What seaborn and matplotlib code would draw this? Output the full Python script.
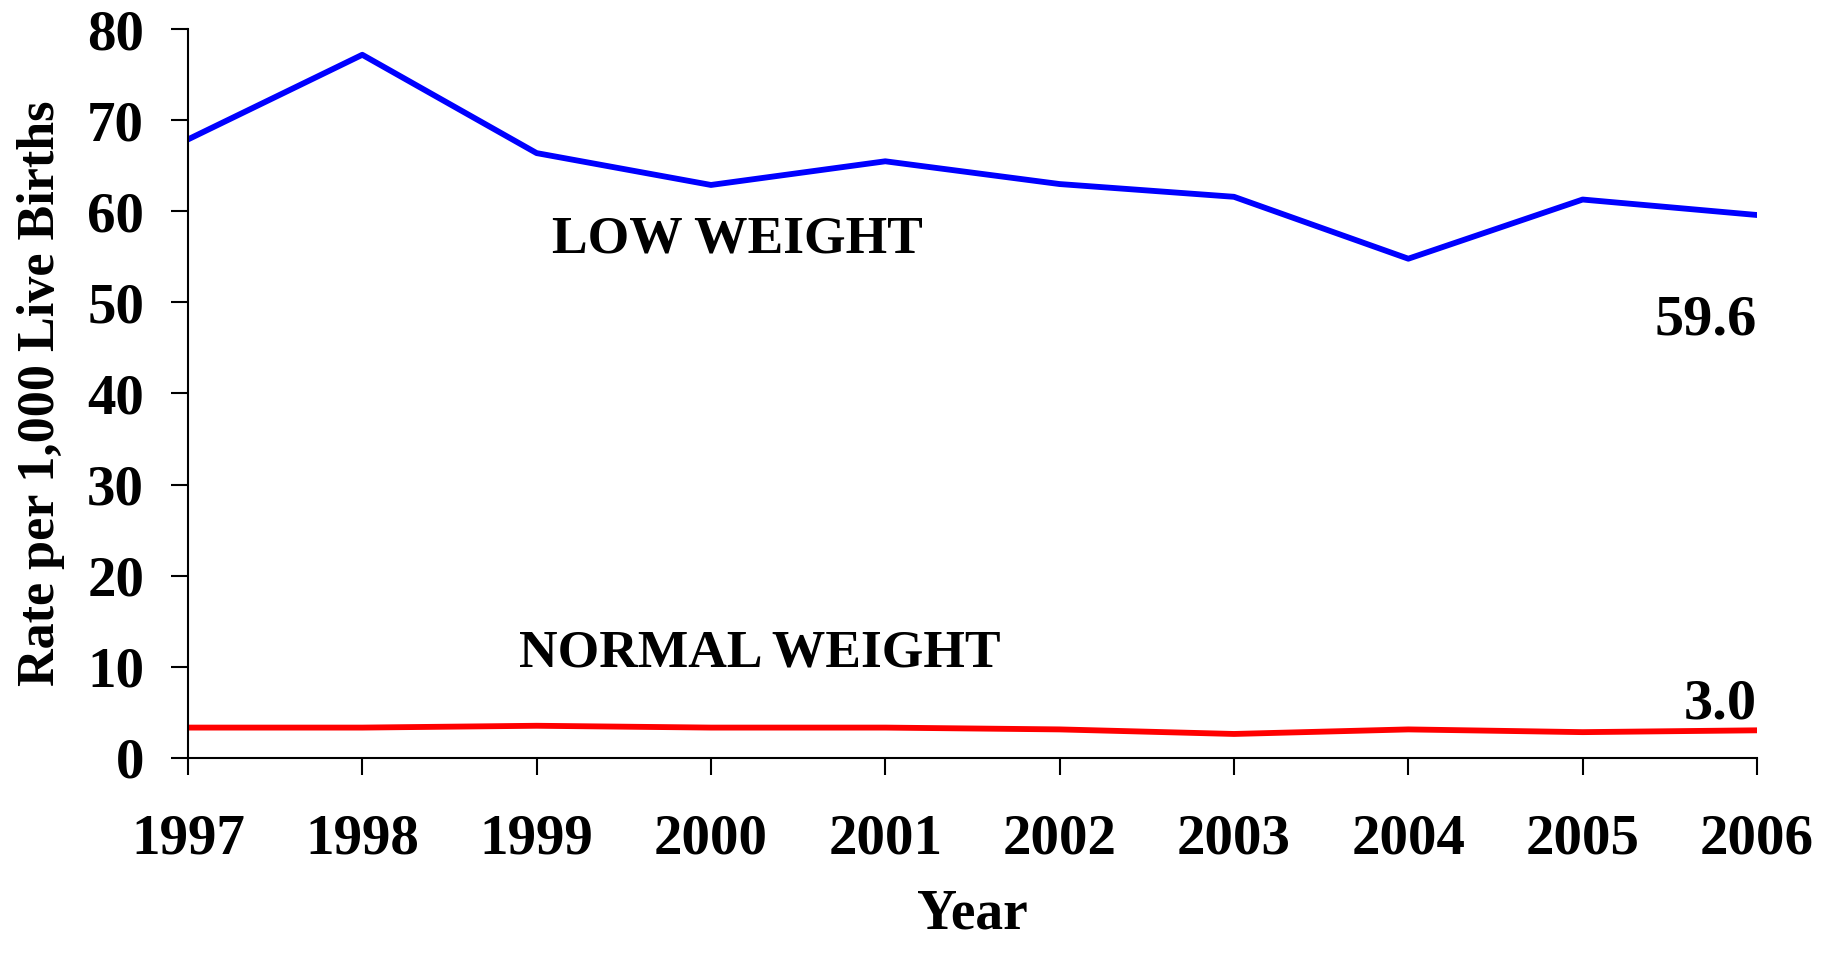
import numpy as np
import pandas as pd
import matplotlib
matplotlib.use("Agg")
import matplotlib.pyplot as plt
import seaborn as sns

# data
years = [1997, 1998, 1999, 2000, 2001, 2002, 2003, 2004, 2005, 2006]
low_weight = [67.9, 77.2, 66.4, 62.9, 65.5, 63.0, 61.6, 54.8, 61.3, 59.6]
normal_weight = [3.3, 3.3, 3.5, 3.3, 3.3, 3.1, 2.6, 3.1, 2.8, 3.0]
y_ticks = [0, 10, 20, 30, 40, 50, 60, 70, 80]

df = pd.DataFrame({
    "Year": years * 2,
    "Rate": low_weight + normal_weight,
    "Group": ["LOW WEIGHT"] * len(years) + ["NORMAL WEIGHT"] * len(years),
})

sns.set_style("ticks")
plt.rcParams["font.family"] = ["Liberation Serif", "DejaVu Serif"]
plt.rcParams["font.weight"] = "bold"
plt.rcParams["text.color"] = "black"
plt.rcParams["axes.labelcolor"] = "black"
plt.rcParams["xtick.color"] = "black"
plt.rcParams["ytick.color"] = "black"
plt.rcParams["axes.edgecolor"] = "black"

fig, ax = plt.subplots(figsize=(18.39, 9.6), dpi=100)
fig.subplots_adjust(left=0.1022, right=0.9554, top=0.9695, bottom=0.2108)

sns.lineplot(data=df, x="Year", y="Rate", hue="Group",
             palette={"LOW WEIGHT": "#0000ff", "NORMAL WEIGHT": "#ff0000"},
             linewidth=4.2, legend=False, ax=ax)

ax.set_xlim(1997, 2006)
ax.set_ylim(0, 80)
ax.set_xticks(years)
ax.set_xticklabels([str(y) for y in years])
ax.set_yticks(y_ticks)

ax.tick_params(axis="x", length=12.5, width=1.5, pad=28, labelsize=41)
ax.tick_params(axis="y", length=12.5, width=1.5, pad=19, labelsize=41)
for lab in ax.get_xticklabels() + ax.get_yticklabels():
    lab.set_fontweight("bold")

sns.despine(ax=ax)
ax.spines["left"].set_linewidth(1.5)
ax.spines["bottom"].set_linewidth(1.5)

ax.set_xlabel("Year", fontsize=40, fontweight="bold", labelpad=16)
ax.set_ylabel("Rate per 1,000 Live Births", fontsize=37.5, fontweight="bold", labelpad=16)

# series labels and end values
ax.text(1999.09, 55.5, "LOW WEIGHT", fontsize=38.5, fontweight="bold", va="baseline")
ax.text(1998.9, 10.05, "NORMAL WEIGHT", fontsize=38.5, fontweight="bold", va="baseline")
ax.text(2006, 46.5, f"{low_weight[-1]:.1f}", fontsize=42, fontweight="bold",
        ha="right", va="baseline")
ax.text(2006, 4.25, f"{normal_weight[-1]:.1f}", fontsize=42, fontweight="bold",
        ha="right", va="baseline")

fig.savefig("out.png", dpi=100)
